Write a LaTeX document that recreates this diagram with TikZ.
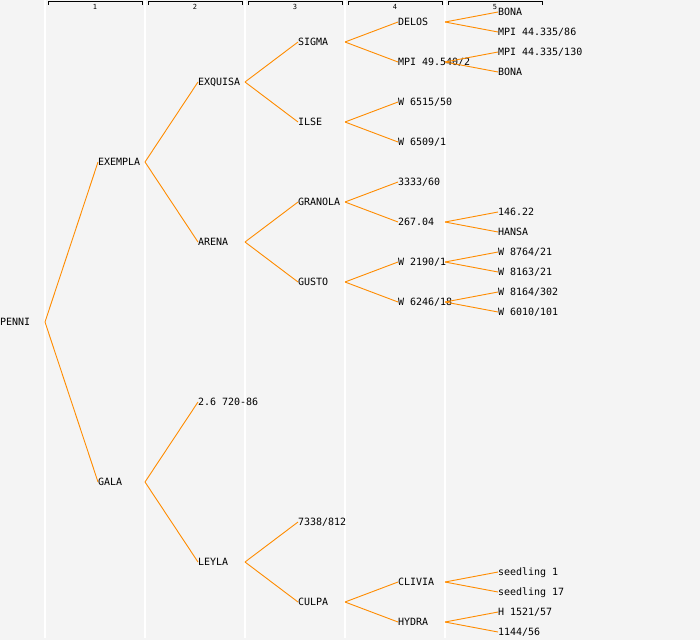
\documentclass[tikz,border=0pt]{standalone}
\usepackage{fontspec}
\setmonofont{DejaVu Sans Mono}
\definecolor{bgc}{HTML}{F4F4F4}
\definecolor{edgec}{HTML}{FF8C00}
\tikzset{
  lbl/.style={anchor=west, inner sep=0pt, outer sep=0pt, text height=7.3pt, text depth=0pt,
    font=\fontsize{10}{12}\selectfont\ttfamily, text=black},
  edge/.style={draw=edgec, line width=0.9pt},
  sep/.style={draw=white, line width=1.2pt},
  brk/.style={draw=black, line width=1pt},
  colnum/.style={inner sep=0pt, font=\fontsize{7}{8}\selectfont\ttfamily, text=black},
}
\newcommand\tnode[4]{\node[lbl] (#1) at (#2,-#3) {#4};\coordinate (#1-r) at ({#2+47},-#3);}
\begin{document}
\begin{tikzpicture}[x=1pt,y=1pt]
\useasboundingbox (0,0) rectangle (700,-640);
\fill[bgc] (0,0) rectangle (700,-640);
\foreach \x in {45,145,245,345,445} {\draw[sep] (\x,0) -- (\x,-638);}
\foreach \i/\x in {1/48,2/148,3/248,4/348,5/448} {
  \draw[brk] (\x,-4.5) -- (\x,-1.5) -- (\x+94.5,-1.5) -- (\x+94.5,-4.5);
  \node[colnum] (c\i) at (\x+47,-6.5) {\i};
}
% root
\node[lbl] (penni) at (0,-322) {PENNI};
\coordinate (penni-r) at (45,-322);
% level 1
\tnode{exempla}{98}{162}{EXEMPLA}
\tnode{gala}{98}{482}{GALA}
% level 2
\tnode{exquisa}{198}{82}{EXQUISA}
\tnode{arena}{198}{242}{ARENA}
\tnode{tsix}{198}{402}{2.6 720-86}
\tnode{leyla}{198}{562}{LEYLA}
% level 3
\tnode{sigma}{298}{42}{SIGMA}
\tnode{ilse}{298}{122}{ILSE}
\tnode{granola}{298}{202}{GRANOLA}
\tnode{gusto}{298}{282}{GUSTO}
\tnode{tseven}{298}{522}{7338/812}
\tnode{culpa}{298}{602}{CULPA}
% level 4
\tnode{delos}{398}{22}{DELOS}
\tnode{mpinine}{398}{62}{MPI 49.540/2}
\tnode{wsixfive}{398}{102}{W 6515/50}
\tnode{wsixnine}{398}{142}{W 6509/1}
\tnode{tthree}{398}{182}{3333/60}
\tnode{ttwo}{398}{222}{267.04}
\tnode{wtwo}{398}{262}{W 2190/1}
\tnode{wsixtwo}{398}{302}{W 6246/18}
\tnode{clivia}{398}{582}{CLIVIA}
\tnode{hydra}{398}{622}{HYDRA}
% level 5
\tnode{bonaa}{498}{12}{BONA}
\tnode{mpia}{498}{32}{MPI 44.335/86}
\tnode{mpib}{498}{52}{MPI 44.335/130}
\tnode{bonab}{498}{72}{BONA}
\tnode{tone}{498}{212}{146.22}
\tnode{hansa}{498}{232}{HANSA}
\tnode{weighta}{498}{252}{W 8764/21}
\tnode{weightb}{498}{272}{W 8163/21}
\tnode{weightc}{498}{292}{W 8164/302}
\tnode{wsixten}{498}{312}{W 6010/101}
\tnode{seeda}{498}{572}{seedling 1}
\tnode{seedb}{498}{592}{seedling 17}
\tnode{hone}{498}{612}{H 1521/57}
\tnode{tonefour}{498}{632}{1144/56}
% edges
\foreach \p/\c in {penni/exempla, penni/gala,
  exempla/exquisa, exempla/arena, gala/tsix, gala/leyla,
  exquisa/sigma, exquisa/ilse, arena/granola, arena/gusto, leyla/tseven, leyla/culpa,
  sigma/delos, sigma/mpinine, ilse/wsixfive, ilse/wsixnine, granola/tthree, granola/ttwo,
  gusto/wtwo, gusto/wsixtwo, culpa/clivia, culpa/hydra,
  delos/bonaa, delos/mpia, mpinine/mpib, mpinine/bonab, ttwo/tone, ttwo/hansa,
  wtwo/weighta, wtwo/weightb, wsixtwo/weightc, wsixtwo/wsixten,
  clivia/seeda, clivia/seedb, hydra/hone, hydra/tonefour}
  {\draw[edge] (\p-r) -- (\c.west);}
\end{tikzpicture}
\end{document}
